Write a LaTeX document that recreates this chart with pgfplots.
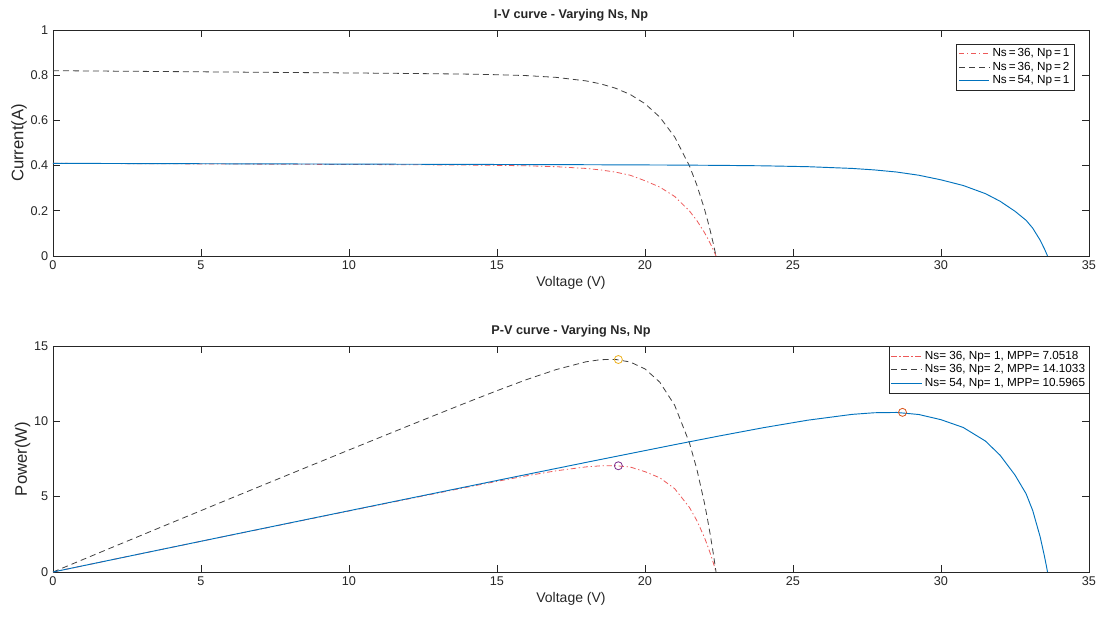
\documentclass[border=0pt]{standalone}
\usepackage{fontspec}
\setmainfont{Liberation Sans}
\usepackage{pgfplots}
\pgfplotsset{compat=1.18}

\definecolor{mblue}{rgb}{0,0.447,0.741}
\definecolor{mred}{rgb}{0.93,0.35,0.35}
\definecolor{mgray}{rgb}{0.25,0.25,0.25}
\definecolor{axgray}{rgb}{0.15,0.15,0.15}
\definecolor{morange}{rgb}{0.929,0.694,0.125}
\definecolor{mpurple}{rgb}{0.494,0.184,0.556}
\definecolor{mredo}{rgb}{0.85,0.325,0.098}

% I-V and P-V data, Ns=36 Np=1
\pgfplotstableread{
V I P
0 0.4100 0
2 0.4090 0.818
4 0.4080 1.632
6 0.4070 2.442
8 0.4060 3.248
10 0.4050 4.050
12 0.4039 4.847
14 0.4024 5.634
15 0.4011 6.017
16 0.3991 6.386
17 0.3952 6.718
18 0.3875 6.975
18.5 0.3809 7.047
19 0.3713 7.055
19.5 0.3574 6.969
20 0.3330 6.660
20.5 0.3050 6.253
21 0.2637 5.538
21.5 0.1996 4.291
21.75 0.1572 3.419
22 0.1058 2.328
22.1 0.0823 1.819
22.2 0.0570 1.265
22.3 0.0296 0.660
22.4 0 0
}\redtab

% Ns=36 Np=2
\pgfplotstableread{
V I P
0 0.8200 0
2 0.8180 1.636
4 0.8160 3.264
6 0.8140 4.884
8 0.8120 6.496
10 0.8100 8.100
12 0.8078 9.694
14 0.8048 11.268
15 0.8022 12.034
16 0.7982 12.772
17 0.7904 13.436
18 0.7750 13.950
18.5 0.7618 14.094
19 0.7426 14.110
19.5 0.7148 13.938
20 0.6740 13.480
20.5 0.6146 12.600
21 0.5274 11.076
21.5 0.3992 8.582
21.75 0.3144 6.838
22 0.2116 4.656
22.1 0.1646 3.638
22.2 0.1140 2.530
22.3 0.0592 1.320
22.4 0 0
}\blacktab

% Ns=54 Np=1
\pgfplotstableread{
V I P
0 0.4100 0
3 0.4090 1.227
6 0.4080 2.448
9 0.4070 3.663
12 0.4060 4.872
15 0.4050 6.075
18 0.4039 7.271
21 0.4024 8.451
22.5 0.4011 9.026
24 0.3991 9.579
25.5 0.3952 10.077
27 0.3875 10.463
27.75 0.3809 10.571
28.5 0.3716 10.590
29.25 0.3574 10.454
30 0.3370 10.110
30.75 0.3120 9.594
31.5 0.2760 8.694
32 0.2420 7.744
32.5 0.1980 6.435
32.875 0.1580 5.194
33.1 0.1230 4.071
33.35 0.0700 2.335
33.5 0.0300 1.005
33.6 0 0
}\bluetab

\pgfplotsset{
  mstyle/.style={
    scale only axis, width=777pt, height=169.5pt,
    xmin=0, xmax=35, xtick={0,5,...,35},
    axis line style={axgray, line width=0.5pt},
    tick style={axgray, line width=0.5pt},
    tick align=inside, major tick length=5pt,
    ticklabel style={font=\fontsize{9.5}{11}\selectfont, text=axgray},
    /pgf/number format/assume math mode=true,
    xlabel={Voltage (V)},
    xlabel style={font=\fontsize{10.5}{12}\selectfont, text=axgray, yshift=2pt},
    ylabel style={font=\fontsize{12.5}{14}\selectfont, text=axgray, yshift=-4pt},
    title style={font=\bfseries\fontsize{9.5}{11}\selectfont, text=axgray, yshift=-3pt},
    legend cell align=left,
    legend style={font=\fontsize{8.8}{10}\selectfont, draw=axgray, line width=0.5pt,
      row sep=-1.5pt, inner sep=1.5pt},
    legend image code/.code={\draw[##1, line width=0.6pt] (0cm,0cm) -- (0.8cm,0cm);},
  },
  redline/.style={mred, line width=0.6pt, dash pattern=on 4pt off 2pt on 1pt off 2pt},
  blackline/.style={mgray, line width=0.6pt, dash pattern=on 4.5pt off 3pt},
  blueline/.style={mblue, line width=0.7pt},
}

\begin{document}
\begin{tikzpicture}
\begin{axis}[mstyle, at={(0,0)},
    ymin=0, ymax=1, ytick={0,0.2,...,1},
    yticklabels={0,0.2,0.4,0.6,0.8,1},
    ylabel={Current(A)},
    title={I-V curve - Varying Ns, Np},
    legend style={at={(0.986,0.94)}, anchor=north east}]
  \addplot[redline] table[x=V, y=I] {\redtab};
  \addlegendentry{Ns\,=\,36, Np\,=\,1}
  \addplot[blackline] table[x=V, y=I] {\blacktab};
  \addlegendentry{Ns\,=\,36, Np\,=\,2}
  \addplot[blueline] table[x=V, y=I] {\bluetab};
  \addlegendentry{Ns\,=\,54, Np\,=\,1}
\end{axis}
\begin{axis}[mstyle, at={(0,-237pt)},
    ymin=0, ymax=15, ytick={0,5,10,15},
    ylabel={Power(W)},
    title={P-V curve - Varying Ns, Np},
    legend style={at={(1.001,1)}, anchor=north east}]
  \addplot[redline] table[x=V, y=P] {\redtab};
  \addlegendentry{Ns= 36, Np= 1, MPP= 7.0518}
  \addplot[blackline] table[x=V, y=P] {\blacktab};
  \addlegendentry{Ns= 36, Np= 2, MPP= 14.1033}
  \addplot[blueline] table[x=V, y=P] {\bluetab};
  \addlegendentry{Ns= 54, Np= 1, MPP= 10.5965}
  \addplot[only marks, mark=o, mark size=3pt, mark options={morange, line width=0.6pt}, forget plot]
    coordinates {(19.1,14.1033)};
  \addplot[only marks, mark=o, mark size=3pt, mark options={mpurple, line width=0.6pt}, forget plot]
    coordinates {(19.1,7.0518)};
  \addplot[only marks, mark=o, mark size=3pt, mark options={mredo, line width=0.6pt}, forget plot]
    coordinates {(28.7,10.5965)};
\end{axis}
\pgfresetboundingbox
\path[use as bounding box] (-39.75pt,-272.25pt) rectangle (788.25pt,192pt);
\end{tikzpicture}
\end{document}
